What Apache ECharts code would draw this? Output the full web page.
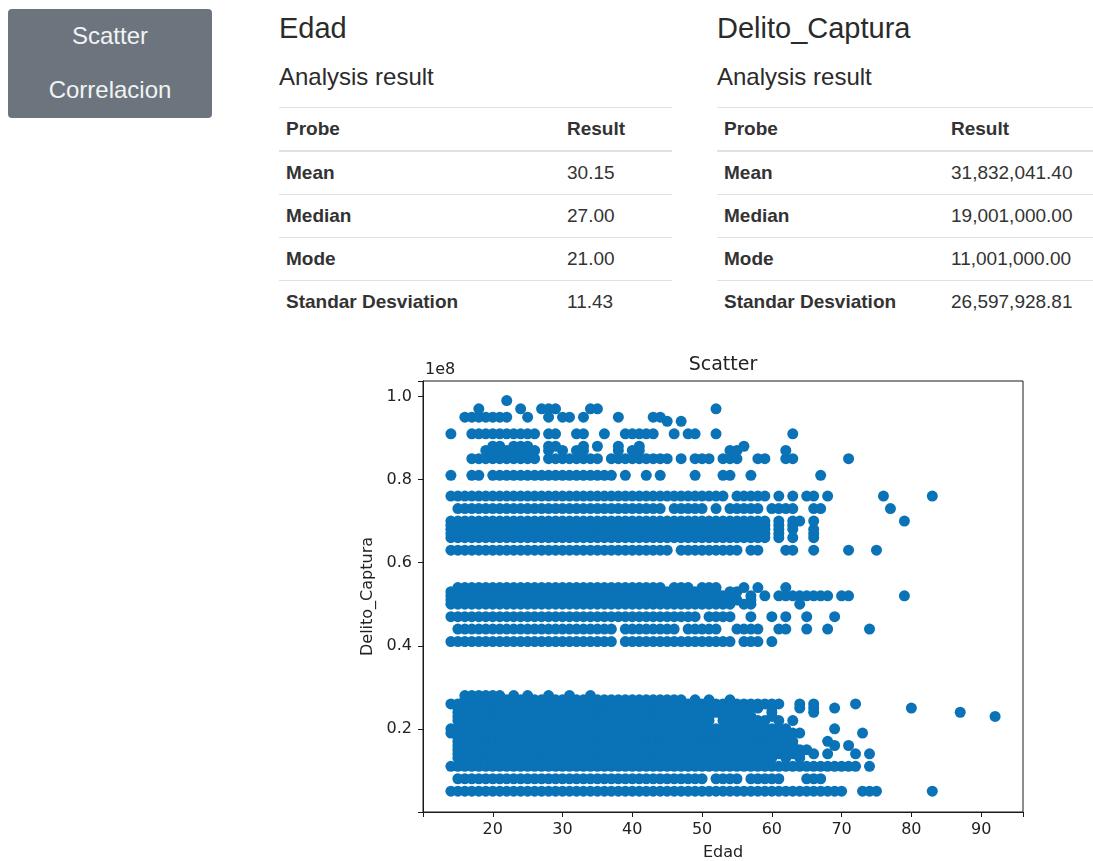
<!DOCTYPE html>
<html>
<head>
<meta charset="utf-8">
<script src="https://cdn.jsdelivr.net/npm/echarts@6/dist/echarts.min.js"></script>
<style>
body {
  margin: 0;
  width: 1093px;
  height: 861px;
  position: relative;
  overflow: hidden;
  background: #fff;
  font-family: "Liberation Sans", Helvetica, Arial, sans-serif;
  color: #333;
}
.menu {
  position: absolute;
  left: 8px;
  top: 9px;
  width: 204px;
  height: 109px;
  background: #6c757d;
  border-radius: 4px;
  color: #f1f3f5;
  font-size: 24px;
  text-align: center;
}
.menu div {
  height: 54px;
  line-height: 54px;
}
.panel {
  position: absolute;
  top: 0;
}
.panel h2 {
  position: absolute;
  top: 12px;
  left: 0;
  margin: 0;
  font-size: 29px;
  font-weight: normal;
  line-height: 32px;
  white-space: nowrap;
  color: #2b2b2b;
}
.panel h3 {
  position: absolute;
  top: 64px;
  left: 0;
  margin: 0;
  font-size: 24px;
  font-weight: normal;
  line-height: 26px;
  white-space: nowrap;
  color: #2b2b2b;
}
.tbl {
  position: absolute;
  top: 107px;
  left: 0;
  font-size: 19px;
}
.tr {
  display: flex;
  align-items: center;
  height: 42px;
  border-top: 1px solid #dee2e6;
  white-space: nowrap;
}
.tr.head {
  font-weight: bold;
  border-bottom: 2px solid #dee2e6;
}
.tr.first {
  border-top: none;
}
.tr .k {
  font-weight: bold;
  padding-left: 7px;
  box-sizing: border-box;
}
#chart {
  position: absolute;
  left: 340px;
  top: 340px;
  width: 720px;
  height: 521px;
}
</style>
</head>
<body>
<div class="menu"><div>Scatter</div><div>Correlacion</div></div>
<div class="panel" id="p1" style="left:279px;width:393px"></div>
<div class="panel" id="p2" style="left:717px;width:376px"></div>
<div id="chart"></div>
<script>
// table contents
const probes = ['Mean', 'Median', 'Mode', 'Standar Desviation']
const edadStats = ['30.15', '27.00', '21.00', '11.43']
const capturaStats = ['31,832,041.40', '19,001,000.00', '11,001,000.00', '26,597,928.81']

// axis ticks
const edadTicks = [20, 30, 40, 50, 60, 70, 80, 90]
const capturaTicks = [20000000, 40000000, 60000000, 80000000, 100000000]

// Delito_Captura values (each a code level) and the ages seen at each level,
// written as runs [from, to] of consecutive ages
const capturaLevels = [
  5001000, 8001000, 11001000, 13001000, 14001000, 15001000, 16001000,
  17001000, 18001000, 19001000, 20001000, 22001000, 23001000, 24001000,
  25001000, 26001000, 27001000, 28001000,
  41001000, 44001000, 47001000, 50001000, 51001000, 52001000, 53001000, 54001000,
  63001000, 66001000, 67001000, 68001000, 69001000, 70001000, 73001000, 76001000,
  81001000, 85001000, 87001000, 88001000, 91001000, 94001000, 95001000, 97001000,
  99001000
]
const edadRuns = [
  [[14, 70], [73, 75], [83, 83]],
  [[15, 50], [52, 55], [57, 61], [65, 67]],
  [[14, 72], [74, 74]],
  [[15, 60], [62, 62], [64, 64]],
  [[15, 64], [66, 66], [68, 68], [72, 72], [74, 74]],
  [[15, 65]],
  [[15, 61], [63, 63], [69, 69], [71, 71]],
  [[15, 63], [68, 68]],
  [[15, 60], [62, 62]],
  [[14, 64], [73, 73]],
  [[14, 62], [69, 69]],
  [[15, 51], [53, 59], [61, 61], [63, 63]],
  [[15, 51], [53, 57], [60, 60], [92, 92]],
  [[15, 56], [60, 60], [66, 66], [87, 87]],
  [[15, 58], [60, 60], [64, 64], [66, 66], [69, 69], [80, 80]],
  [[14, 53], [55, 61], [64, 64], [66, 66], [72, 72]],
  [[16, 47], [49, 49], [51, 51], [54, 54]],
  [[16, 21], [23, 23], [25, 25], [28, 28], [31, 31], [34, 34]],
  [[14, 37], [39, 54], [56, 58], [60, 60]],
  [[15, 37], [39, 46], [48, 52], [55, 58], [61, 62], [65, 65], [68, 68], [74, 74]],
  [[14, 49], [51, 54], [57, 57], [60, 60], [62, 62], [65, 65], [69, 69]],
  [[14, 54], [56, 57], [64, 64]],
  [[14, 55], [57, 57]],
  [[14, 54], [57, 57], [59, 59], [61, 68], [70, 71], [79, 79]],
  [[14, 52], [54, 55]],
  [[15, 44], [46, 48], [50, 52], [56, 56], [58, 58], [62, 62]],
  [[14, 45], [47, 55], [57, 58], [62, 63], [66, 66], [71, 71], [75, 75]],
  [[14, 59], [61, 61], [63, 63], [66, 66]],
  [[14, 41], [43, 59], [61, 61], [66, 66]],
  [[14, 59], [61, 61], [63, 63], [66, 66]],
  [[14, 42], [44, 59], [61, 61], [63, 63]],
  [[14, 59], [61, 61], [63, 64], [66, 66], [79, 79]],
  [[15, 44], [46, 50], [52, 52], [54, 58], [60, 63], [66, 67], [77, 77]],
  [[14, 53], [55, 59], [61, 61], [63, 63], [65, 66], [68, 68], [76, 76], [83, 83]],
  [[14, 14], [17, 18], [20, 37], [39, 39], [42, 42], [44, 44], [49, 49], [53, 54], [57, 57], [67, 67]],
  [[17, 26], [28, 35], [37, 45], [47, 47], [49, 51], [53, 55], [58, 59], [62, 63], [71, 71]],
  [[19, 26], [28, 28], [30, 30], [32, 33], [38, 38], [40, 41], [54, 55], [62, 62]],
  [[20, 21], [23, 25], [28, 29], [33, 33], [35, 35], [38, 38], [41, 41], [56, 56]],
  [[14, 14], [17, 26], [28, 29], [32, 33], [36, 36], [39, 43], [46, 46], [48, 49], [52, 52], [63, 63]],
  [[45, 45], [47, 47]],
  [[16, 22], [25, 25], [28, 28], [30, 31], [33, 33], [38, 38], [43, 44]],
  [[18, 18], [24, 24], [27, 29], [34, 35], [52, 52]],
  [[22, 22]]
]

function buildPanel(id, title, values, splitAt) {
  const el = document.getElementById(id)
  let html = '<h2>' + title + '</h2><h3>Analysis result</h3><div class="tbl" style="width:100%">'
  html += '<div class="tr head"><div class="k" style="width:' + splitAt + 'px">Probe</div><div>Result</div></div>'
  probes.forEach((p, i) => {
    html += '<div class="tr' + (i === 0 ? ' first' : '') + '"><div class="k" style="width:' + splitAt + 'px">' + p + '</div><div>' + values[i] + '</div></div>'
  })
  html += '</div>'
  el.innerHTML = html
}
buildPanel('p1', 'Edad', edadStats, 288)
buildPanel('p2', 'Delito_Captura', capturaStats, 234)

const points = []
capturaLevels.forEach((lvl, i) => {
  edadRuns[i].forEach(([a, b]) => {
    for (let e = a; e <= b; e++) points.push([e, lvl])
  })
})

const textColor = '#222'
const font = 'DejaVu Sans'
const myChart = echarts.init(document.getElementById('chart'))
myChart.setOption({
  animation: false,
  grid: {
    left: 83,
    top: 41,
    width: 600,
    height: 431,
    containLabel: false,
    outerBoundsMode: 'none',
    show: true,
    borderColor: '#1a1a1a',
    borderWidth: 1
  },
  graphic: [
    {
      type: 'text',
      x: 85,
      y: 30,
      style: { text: '1e8', fontFamily: font, fontSize: 16, fill: textColor, align: 'left', verticalAlign: 'middle' }
    },
    {
      type: 'text',
      x: 383,
      y: 25,
      style: { text: 'Scatter', fontFamily: font, fontSize: 19, fill: textColor, align: 'center', verticalAlign: 'middle' }
    }
  ],
  xAxis: {
    type: 'value',
    min: 10,
    max: 96,
    interval: 10,
    name: 'Edad',
    nameLocation: 'middle',
    nameGap: 33,
    nameTextStyle: { fontFamily: font, fontSize: 16, color: textColor },
    axisLine: { show: true, lineStyle: { color: '#1a1a1a' } },
    axisTick: { show: true, length: 5, lineStyle: { color: '#1a1a1a' } },
    axisLabel: {
      margin: 10,
      fontFamily: font,
      fontSize: 16,
      color: textColor,
      formatter: v => (edadTicks.includes(v) ? String(v) : '')
    },
    splitLine: { show: false }
  },
  yAxis: {
    type: 'value',
    min: 0,
    max: 103700000,
    interval: 20000000,
    name: 'Delito_Captura',
    nameLocation: 'middle',
    nameGap: 38,
    nameTextStyle: { fontFamily: font, fontSize: 16, color: textColor },
    axisLine: { show: true, lineStyle: { color: '#1a1a1a' } },
    axisTick: { show: true, length: 5, lineStyle: { color: '#1a1a1a' } },
    axisLabel: {
      margin: 11,
      fontFamily: font,
      fontSize: 16,
      color: textColor,
      formatter: v => (capturaTicks.includes(v) ? (v / 1e8).toFixed(1) : '')
    },
    splitLine: { show: false }
  },
  series: [
    {
      type: 'scatter',
      data: points,
      symbol: 'circle',
      symbolSize: 11,
      large: false,
      progressive: 0,
      itemStyle: { color: '#0a72b6', opacity: 1 }
    }
  ]
})
</script>
</body>
</html>
